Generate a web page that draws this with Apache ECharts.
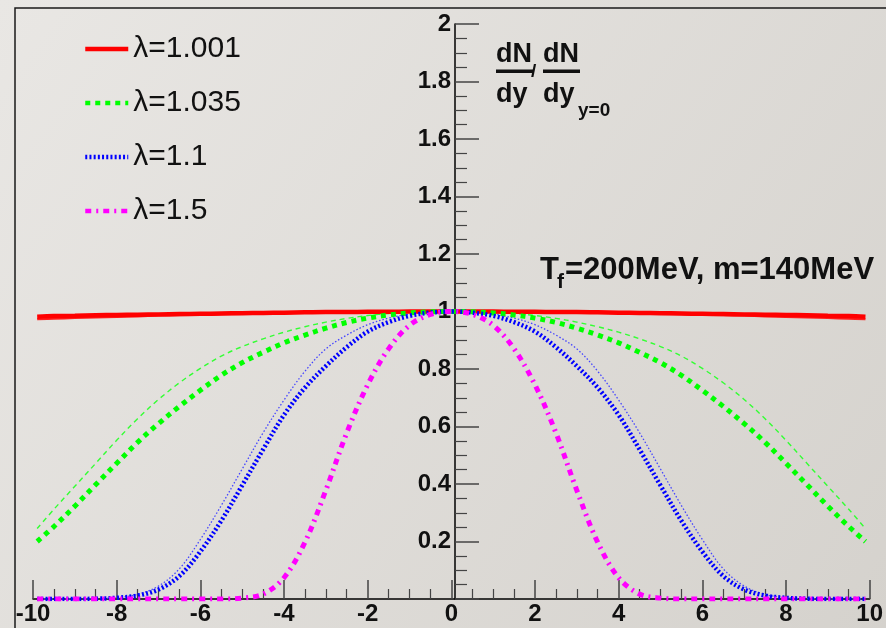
<!DOCTYPE html>
<html>
<head>
<meta charset="utf-8">
<script src="https://cdn.jsdelivr.net/npm/echarts@6/dist/echarts.min.js"></script>
<style>
  html, body { margin: 0; padding: 0; }
  #chart { width: 886px; height: 628px; }
</style>
</head>
<body>
<div id="chart"></div>
<script>
// rapidity grid shared by every curve
var xs = [-9.9, -9.5, -9, -8.5, -8, -7.5, -7, -6.5, -6, -5.5, -5, -4.5, -4, -3.5, -3, -2.5, -2, -1.5, -1, -0.5,
  0, 0.5, 1, 1.5, 2, 2.5, 3, 3.5, 4, 4.5, 5, 5.5, 6, 6.5, 7, 7.5, 8, 8.5, 9, 9.5, 9.9];

// thick curves (the ones in the legend)
var red1001 = [0.982, 0.984, 0.985, 0.987, 0.988, 0.989, 0.990, 0.991, 0.992, 0.993, 0.994, 0.995, 0.996, 0.997, 0.998, 0.998, 0.999, 0.999, 1, 1,
  1, 1, 1, 0.999, 0.999, 0.998, 0.998, 0.997, 0.996, 0.995, 0.994, 0.993, 0.992, 0.991, 0.990, 0.989, 0.988, 0.987, 0.985, 0.984, 0.982];
var green1035 = [0.200, 0.252, 0.323, 0.398, 0.472, 0.545, 0.610, 0.670, 0.726, 0.778, 0.822, 0.858, 0.891, 0.918, 0.942, 0.962, 0.977, 0.988, 0.995, 0.999,
  1, 0.999, 0.995, 0.988, 0.977, 0.962, 0.942, 0.918, 0.891, 0.858, 0.822, 0.778, 0.726, 0.670, 0.610, 0.545, 0.472, 0.398, 0.323, 0.252, 0.200];
var blue11 = [0, 0, 0, 0.001, 0.004, 0.012, 0.033, 0.080, 0.165, 0.272, 0.395, 0.520, 0.640, 0.735, 0.810, 0.876, 0.930, 0.963, 0.985, 0.996,
  1, 0.996, 0.985, 0.963, 0.930, 0.876, 0.810, 0.735, 0.640, 0.520, 0.395, 0.272, 0.165, 0.080, 0.033, 0.012, 0.004, 0.001, 0, 0, 0];
var magenta15 = [0, 0, 0, 0, 0, 0, 0, 0, 0, 0, 0.003, 0.017, 0.074, 0.197, 0.378, 0.578, 0.745, 0.870, 0.952, 0.990,
  1, 0.990, 0.952, 0.870, 0.745, 0.578, 0.378, 0.197, 0.074, 0.017, 0.003, 0, 0, 0, 0, 0, 0, 0, 0, 0, 0];

// thin companion curves
var red1001b = [0.973, 0.975, 0.977, 0.979, 0.981, 0.983, 0.985, 0.987, 0.988, 0.990, 0.991, 0.993, 0.994, 0.995, 0.996, 0.997, 0.998, 0.999, 0.999, 1,
  1, 1, 0.999, 0.999, 0.998, 0.997, 0.996, 0.995, 0.994, 0.993, 0.991, 0.990, 0.988, 0.987, 0.985, 0.983, 0.981, 0.979, 0.977, 0.975, 0.973];
var green1035b = [0.245, 0.312, 0.392, 0.472, 0.552, 0.627, 0.694, 0.752, 0.802, 0.845, 0.878, 0.905, 0.928, 0.947, 0.963, 0.976, 0.986, 0.993, 0.997, 1,
  1, 1, 0.997, 0.993, 0.986, 0.976, 0.963, 0.947, 0.928, 0.905, 0.878, 0.845, 0.802, 0.752, 0.694, 0.627, 0.552, 0.472, 0.392, 0.312, 0.245];
var blue11b = [0, 0, 0, 0.001, 0.005, 0.016, 0.045, 0.105, 0.207, 0.325, 0.452, 0.578, 0.692, 0.792, 0.870, 0.918, 0.954, 0.977, 0.991, 0.998,
  1, 0.998, 0.991, 0.977, 0.954, 0.918, 0.870, 0.792, 0.692, 0.578, 0.452, 0.325, 0.207, 0.105, 0.045, 0.016, 0.005, 0.001, 0, 0, 0];

var legendNames = ['λ=1.001', 'λ=1.035', 'λ=1.1', 'λ=1.5'];

var FONT = '"Liberation Sans", Arial, Helvetica, sans-serif';

function pts(ys) {
  return xs.map(function (x, i) { return [x, ys[i]]; });
}

function curve(name, ys, color, width, dash) {
  return {
    name: name,
    type: 'line',
    data: pts(ys),
    smooth: 0.35,
    symbol: 'none',
    showSymbol: false,
    lineStyle: { color: color, width: width, type: dash, cap: 'butt' },
    itemStyle: { color: color },
    emphasis: { disabled: true },
    animation: false
  };
}

var chart = echarts.init(document.getElementById('chart'), null, { renderer: 'canvas' });

// plot spans x = 33..877 px, so x = 0 sits 422 px right of the grid's left edge
chart.setOption({
  backgroundColor: {
    type: 'linear', x: 0, y: 0, x2: 1, y2: 1,
    colorStops: [{ offset: 0, color: '#e9e7e4' }, { offset: 1, color: '#d5d2cd' }]
  },
  grid: { left: 33, right: 9, top: 24, bottom: 29 },
  legend: {
    data: legendNames,
    orient: 'vertical',
    left: 83,
    top: 34,
    padding: 0,
    itemWidth: 43,
    itemHeight: 14,
    itemGap: 24,
    selectedMode: false,
    itemStyle: { opacity: 0 },
    lineStyle: { width: 4.5 },
    textStyle: { fontFamily: FONT, fontSize: 30, lineHeight: 30, color: '#111' }
  },
  xAxis: {
    type: 'value',
    min: -10, max: 10, interval: 2,
    splitLine: { show: false },
    axisLine: { lineStyle: { color: '#000', width: 1.5 } },
    axisTick: { inside: true, length: 19, lineStyle: { color: '#444', width: 1.5 } },
    minorTick: { show: true, splitNumber: 4, length: 10, lineStyle: { color: '#444', width: 1.2 } },
    axisLabel: { margin: 3, fontFamily: FONT, fontWeight: 'bold', fontSize: 24, color: '#111' }
  },
  yAxis: {
    type: 'value',
    min: 0, max: 2, interval: 0.2,
    offset: -422,
    splitLine: { show: false },
    axisLine: { onZero: false, lineStyle: { color: '#000', width: 1.5 } },
    axisTick: { inside: true, length: 24, lineStyle: { color: '#444', width: 1.5 } },
    minorTick: { show: true, splitNumber: 4, length: 12, lineStyle: { color: '#444', width: 1.2 } },
    axisLabel: {
      margin: 4, fontFamily: FONT, fontWeight: 'bold', fontSize: 24, color: '#111',
      formatter: function (v) { return v === 0 ? '' : String(+v.toFixed(1)); }
    }
  },
  graphic: [
    { type: 'rect', shape: { x: 15, y: 8, width: 900, height: 700 }, style: { fill: null, stroke: '#1a1a1a', lineWidth: 1.5 }, silent: true },
    { type: 'text', x: 496, y: 55, style: { text: 'dN', font: 'bold 27px ' + FONT, fill: '#111', verticalAlign: 'middle' } },
    { type: 'rect', shape: { x: 496, y: 69.5, width: 37, height: 3.5 }, style: { fill: '#111' } },
    { type: 'text', x: 531, y: 72, style: { text: '/', font: 'bold 19px ' + FONT, fill: '#111', verticalAlign: 'middle' } },
    { type: 'text', x: 543, y: 55, style: { text: 'dN', font: 'bold 27px ' + FONT, fill: '#111', verticalAlign: 'middle' } },
    { type: 'rect', shape: { x: 543, y: 69.5, width: 37, height: 3.5 }, style: { fill: '#111' } },
    { type: 'text', x: 496, y: 95, style: { text: 'dy', font: 'bold 27px ' + FONT, fill: '#111', verticalAlign: 'middle' } },
    { type: 'text', x: 543, y: 95, style: { text: 'dy', font: 'bold 27px ' + FONT, fill: '#111', verticalAlign: 'middle' } },
    { type: 'text', x: 578, y: 111, style: { text: 'y=0', font: 'bold 19px ' + FONT, fill: '#111', verticalAlign: 'middle' } },
    { type: 'text', x: 540, y: 270, style: { text: 'T', font: 'bold 31px ' + FONT, fill: '#111', verticalAlign: 'middle' } },
    { type: 'text', x: 557, y: 282, style: { text: 'f', font: 'bold 21px ' + FONT, fill: '#111', verticalAlign: 'middle' } },
    { type: 'text', x: 565, y: 270, style: { text: '=200MeV, m=140MeV', font: 'bold 31px ' + FONT, fill: '#111', verticalAlign: 'middle' } }
  ],
  series: [
    curve('λ=1.001 thin', red1001b, '#ff2020', 2, 'solid'),
    curve('λ=1.035 thin', green1035b, '#33ff33', 1.4, [5, 4]),
    curve('λ=1.1 thin', blue11b, '#4444ff', 1.3, [1.5, 2]),
    curve('λ=1.001', red1001, '#ff0000', 4.5, 'solid'),
    curve('λ=1.035', green1035, '#00ff00', 5, [5, 5]),
    curve('λ=1.1', blue11, '#0000ff', 4.5, [2, 2.2]),
    curve('λ=1.5', magenta15, '#ff00ff', 5, [6, 5, 2, 5])
  ]
});
</script>
</body>
</html>
